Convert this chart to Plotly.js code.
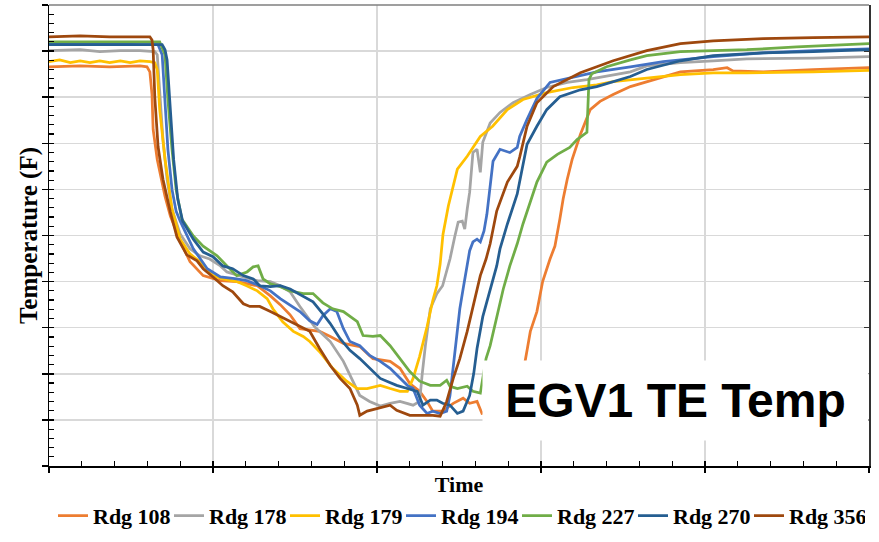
<!DOCTYPE html>
<html>
<head>
<meta charset="utf-8">
<script src="https://cdn.plot.ly/plotly-3.0.1.min.js"></script>
<style>html,body{margin:0;padding:0;background:#fff;}#chart{width:879px;height:542px;}</style>
</head>
<body>
<div id="chart"></div>
<script>
// Series names and colours
const seriesNames = ["Rdg 108","Rdg 178","Rdg 179","Rdg 194","Rdg 227","Rdg 270","Rdg 356"];
const seriesColors = ["#ED7D31","#A5A5A5","#FFC000","#4472C4","#70AD47","#255E91","#9E480E"];

// [time, temperature] readings (time axis 0-100, temperature 0-1000, estimated)
const rdg108 = [[0,866],[3.8,868],[7.4,866],[11.1,868],[11.95,866],[12.3,855],[12.56,806],[12.7,730],[13.2,665],[13.5,637],[14.15,585],[14.8,542],[16.0,488],[17.2,443],[18.8,413],[20.9,402],[22.9,400],[25.4,391],[27.0,369],[28.2,350],[29.4,328],[30.6,298],[33.0,292],[34.3,281],[35.9,266],[37.9,259],[39.5,233],[41.6,227],[42.8,212],[44.0,179],[45.2,162],[46.1,140],[46.8,119],[48.0,119],[49.3,136],[50.5,147],[51.3,136],[52.2,140],[52.8,114],[54.4,121],[56.2,136],[57.2,158],[57.8,201],[58.3,251],[58.7,292],[59.5,335],[60.2,400],[61.1,449],[61.7,477],[62.3,536],[62.7,579],[63.2,622],[63.8,665],[64.8,719],[66.0,773],[67.2,791],[68.8,806],[70.9,823],[72.9,834],[74.9,845],[77.0,855],[81.0,860],[82.7,864],[83.4,857],[87.1,855],[93.2,860],[100,864]];
const rdg178 = [[0,901],[3.8,903],[6.2,899],[8.7,901],[11.1,901],[12.9,899],[13.2,892],[13.5,816],[13.9,708],[14.4,622],[15.0,557],[16.0,503],[17.2,471],[18.4,456],[19.6,449],[20.9,434],[21.7,421],[23.7,410],[25.4,402],[27.0,400],[28.2,391],[29.4,378],[30.6,346],[32.4,302],[34.3,270],[35.9,227],[37.1,184],[37.9,153],[39.1,140],[40.4,130],[41.6,136],[42.8,140],[44.4,132],[45.2,140],[45.5,197],[45.9,261],[46.5,341],[47.3,374],[48.0,391],[48.9,449],[49.5,499],[49.9,529],[50.4,531],[50.7,514],[51.0,557],[51.3,594],[51.7,680],[52.2,687],[52.6,637],[52.9,702],[53.8,744],[55.0,767],[56.6,788],[58.7,806],[60.7,821],[63.2,832],[65.6,838],[68.0,845],[70.9,855],[72.9,868],[77.0,875],[81.0,879],[85.1,883],[93.2,885],[100,888]];
const rdg179 = [[0,877],[1.3,881],[2.6,875],[3.8,879],[5.0,875],[6.2,879],[7.4,875],[8.7,879],[9.9,875],[11.1,879],[12.3,877],[12.9,875],[13.2,860],[13.5,773],[14.15,665],[15.0,557],[16.0,492],[17.2,460],[18.4,443],[20.0,413],[21.2,406],[22.9,400],[24.1,391],[25.4,380],[26.6,363],[27.3,341],[28.5,313],[29.8,292],[31.0,281],[31.8,270],[33.0,248],[34.6,212],[36.3,184],[37.6,168],[38.8,168],[40.4,175],[41.6,168],[42.8,162],[43.7,162],[44.4,190],[45.2,238],[46.1,302],[46.8,359],[47.3,391],[47.7,438],[48.05,503],[48.7,564],[49.8,644],[51.0,672],[52.6,715],[54.1,737],[55.9,773],[57.8,795],[60.7,810],[63.9,821],[66.8,827],[68.8,834],[72.9,842],[77.0,849],[81.0,853],[85.1,853],[93.2,855],[100,858]];
const rdg194 = [[0,916],[6.2,916],[11.1,914],[13.3,914],[13.8,892],[14.15,795],[14.5,687],[15.0,600],[15.5,553],[16.0,531],[17.6,471],[19.3,428],[20.9,410],[22.9,406],[24.1,402],[25.7,391],[27.0,380],[28.2,363],[29.4,348],[30.6,335],[31.8,315],[32.7,307],[33.4,326],[34.3,341],[35.1,335],[35.9,298],[36.7,270],[37.9,261],[39.1,240],[40.4,227],[41.6,212],[42.8,190],[43.7,175],[44.4,168],[45.2,132],[46.1,114],[46.8,119],[47.7,114],[48.5,119],[48.9,153],[49.3,212],[49.8,287],[50.1,341],[50.5,384],[51.0,432],[51.3,467],[51.7,486],[52.2,492],[52.6,486],[53.05,510],[53.4,546],[53.8,611],[54.15,661],[55.0,687],[56.2,680],[57.1,691],[57.4,715],[58.3,752],[59.5,797],[61.1,832],[63.2,840],[66.8,855],[70.9,866],[74.9,877],[81.0,888],[87.1,896],[93.2,901],[100,905]];
const rdg227 = [[0,920],[6.2,920],[11.1,920],[13.5,920],[14.15,892],[14.5,795],[15.0,687],[15.5,600],[16.2,536],[17.6,499],[18.8,477],[20.5,456],[21.7,434],[22.9,413],[24.15,421],[24.9,432],[25.5,434],[26.1,406],[27.0,395],[28.2,389],[29.4,380],[31.0,374],[32.2,374],[33.4,354],[34.6,341],[35.9,335],[37.6,313],[38.3,283],[39.5,281],[40.4,283],[41.6,261],[42.8,233],[44.0,205],[45.2,184],[46.5,175],[47.7,175],[48.5,186],[48.9,173],[49.8,168],[51.0,173],[51.7,162],[52.6,158],[52.9,190],[53.3,233],[53.8,261],[54.6,326],[55.4,384],[56.2,434],[57.1,482],[57.8,525],[58.7,572],[59.5,616],[60.7,659],[62.0,676],[63.5,691],[64.4,708],[65.6,724],[65.85,838],[66.2,851],[68.0,866],[70.9,881],[72.9,890],[77.0,899],[85.1,903],[91.2,909],[100,916]];
const rdg270 = [[0,914],[6.2,914],[11.1,914],[13.8,914],[14.15,903],[14.4,881],[14.8,773],[15.2,665],[15.7,579],[16.3,531],[17.6,492],[18.8,464],[20.0,454],[21.2,434],[22.4,428],[23.7,413],[24.9,406],[25.7,391],[27.0,389],[28.2,391],[29.4,384],[31.0,369],[32.2,356],[33.4,330],[34.3,309],[35.5,276],[36.7,251],[37.9,233],[39.1,212],[40.4,190],[41.2,184],[42.4,175],[43.7,168],[44.9,162],[45.6,132],[46.5,143],[47.3,143],[48.0,136],[48.9,132],[49.8,114],[50.5,119],[51.3,153],[51.8,201],[52.2,255],[52.9,324],[53.8,384],[54.6,434],[55.0,471],[55.9,525],[57.1,590],[57.7,644],[58.3,698],[59.5,737],[60.7,773],[62.3,801],[64.8,816],[66.8,823],[68.8,834],[70.9,845],[72.9,860],[77.0,879],[81.0,890],[87.1,896],[93.2,899],[100,903]];
const rdg356 = [[0,931],[3.8,933],[7.4,931],[11.1,931],[12.3,931],[12.56,924],[12.7,903],[12.9,801],[13.3,693],[13.9,622],[14.8,551],[15.6,497],[16.8,458],[18.05,445],[18.8,428],[20.0,410],[21.2,391],[22.4,378],[23.7,352],[24.5,346],[25.7,346],[27.0,335],[28.2,324],[29.4,313],[30.6,302],[31.8,292],[33.0,255],[34.3,218],[35.5,190],[36.7,168],[37.6,132],[37.9,110],[38.8,119],[40.0,125],[41.6,132],[42.4,121],[44.0,110],[45.2,110],[46.8,110],[47.7,108],[48.5,140],[49.3,190],[50.1,233],[51.0,292],[51.7,348],[52.6,413],[53.3,449],[53.8,482],[54.6,553],[55.9,616],[57.1,650],[57.4,670],[58.3,737],[59.5,788],[61.5,823],[64.8,853],[66.8,866],[68.8,879],[72.9,901],[77.0,916],[81.0,922],[87.1,927],[93.2,929],[100,931]];

const allSeries = [rdg108, rdg178, rdg179, rdg194, rdg227, rdg270, rdg356];

const titleText = "EGV1 TE Temp";
const xTitle = "Time";
const yTitle = "Temperature (F)";

const serif = "Liberation Serif, Times New Roman, serif";

const traces = allSeries.map((s, i) => ({
  type: "scatter",
  mode: "lines",
  name: seriesNames[i],
  x: s.map(p => p[0]),
  y: s.map(p => p[1]),
  line: {color: seriesColors[i], width: 2.75},
  hoverinfo: "skip"
}));
// helper traces so the overlay tick axes are drawn
traces.push({type:"scatter", mode:"lines", x:[null], y:[null], xaxis:"x2", yaxis:"y", showlegend:false, hoverinfo:"skip"});
traces.push({type:"scatter", mode:"lines", x:[null], y:[null], xaxis:"x", yaxis:"y2", showlegend:false, hoverinfo:"skip"});
traces.push({type:"scatter", mode:"lines", x:[null], y:[null], xaxis:"x", yaxis:"y3", showlegend:false, hoverinfo:"skip"});

const layout = {
  width: 879, height: 542,
  margin: {l: 49, r: 10, t: 5, b: 74},
  paper_bgcolor: "#fff", plot_bgcolor: "#fff",
  showlegend: true,
  xaxis: {
    range: [0, 100], dtick: 20, tick0: 0,
    showgrid: true, gridcolor: "#d9d9d9", gridwidth: 1.5,
    zeroline: false, showticklabels: false,
    ticks: "inside", ticklen: 5, tickwidth: 1.5, tickcolor: "#000",
    minor: {dtick: 4, ticks: "inside", ticklen: 5, tickwidth: 1.2, tickcolor: "#000", showgrid: false},
    showline: true, linecolor: "#000", linewidth: 1.5,
    title: {text: xTitle, font: {family: serif, size: 22, color: "#000", weight: "bold"}, standoff: 10}
  },
  xaxis2: {
    overlaying: "x", anchor: "y", side: "bottom", range: [0, 100], dtick: 20, tick0: 0,
    showgrid: false, zeroline: false, showticklabels: false, showline: false,
    ticks: "outside", ticklen: 6, tickwidth: 1.5, tickcolor: "#000"
  },
  yaxis: {
    range: [0, 1000], dtick: 100, tick0: 0,
    showgrid: true, gridcolor: "#d9d9d9", gridwidth: 1.5,
    zeroline: false, showticklabels: false,
    ticks: "inside", ticklen: 5, tickwidth: 1.5, tickcolor: "#000",
    minor: {dtick: 20, ticks: "inside", ticklen: 5, tickwidth: 1.2, tickcolor: "#000", showgrid: false},
    showline: true, linecolor: "#000", linewidth: 1.5,
    title: {text: yTitle, font: {family: serif, size: 25, color: "#000", weight: "bold"}, standoff: 3}
  },
  yaxis2: {
    overlaying: "y", anchor: "x", side: "left", range: [0, 1000], dtick: 100, tick0: 0,
    showgrid: false, zeroline: false, showticklabels: false, showline: false,
    ticks: "outside", ticklen: 6, tickwidth: 1.5, tickcolor: "#000"
  },
  yaxis3: {
    overlaying: "y", anchor: "x", side: "right", range: [0, 1000], dtick: 100, tick0: 0,
    showgrid: false, zeroline: false, showticklabels: false,
    showline: true, linecolor: "#333", linewidth: 1.5,
    ticks: "inside", ticklen: 5, tickwidth: 1.2, tickcolor: "#333"
  },
  shapes: [
    {type: "line", xref: "paper", yref: "paper", x0: 0, x1: 1, y0: 1, y1: 1, line: {color: "#7f7f7f", width: 1.5}}
  ],
  legend: {
    orientation: "h", x: 0.5, xanchor: "center", y: -0.108, yanchor: "middle",
    font: {family: serif, size: 22, color: "#000", weight: "bold"},
    entrywidth: 71, entrywidthmode: "pixels",
    bgcolor: "rgba(0,0,0,0)"
  },
  annotations: [{
    xref: "paper", yref: "paper", x: 0.7635, y: 0.1415, xanchor: "center", yanchor: "middle",
    text: titleText, showarrow: false,
    font: {family: "Liberation Sans, Arial, sans-serif", size: 48, color: "#000", weight: "bold"},
    bgcolor: "#fff", width: 385, height: 79, borderpad: 0
  }]
};

Plotly.newPlot("chart", traces, layout, {displayModeBar: false, staticPlot: true});
</script>
</body>
</html>
